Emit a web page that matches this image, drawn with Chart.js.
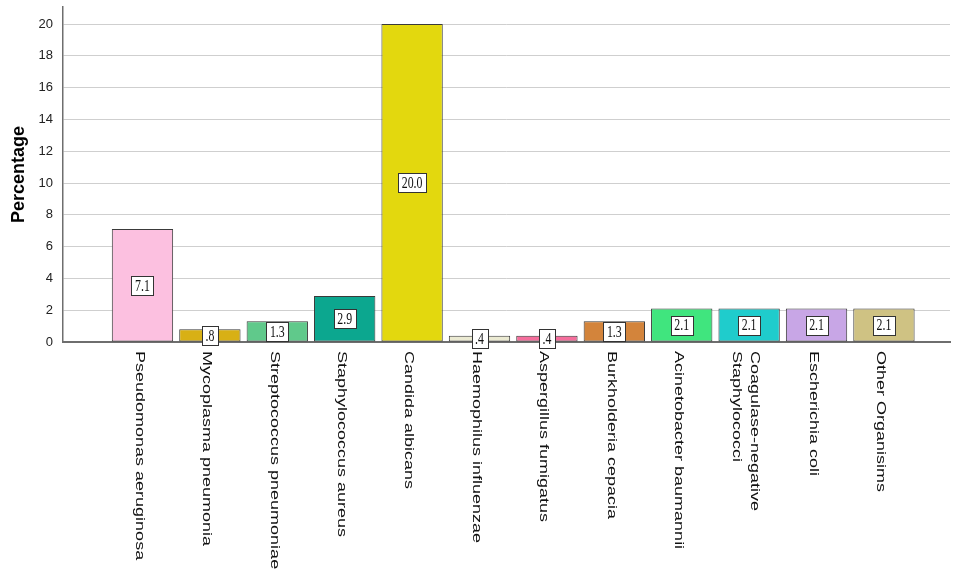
<!DOCTYPE html>
<html>
<head>
<meta charset="utf-8">
<script src="https://cdn.jsdelivr.net/npm/chart.js@4/dist/chart.umd.min.js"></script>
<style>
  html, body { margin: 0; padding: 0; background: #ffffff; }
  #c { display: block; }
</style>
</head>
<body>
<canvas id="c" width="953" height="572"></canvas>
<script>
// ---- data ----
const categories = [
  "Pseudomonas aeruginosa",
  "Mycoplasma pneumonia",
  "Streptococcus pneumoniae",
  "Staphylococcus aureus",
  "Candida albicans",
  "Haemophilus influenzae",
  "Aspergillus fumigatus",
  "Burkholderia cepacia",
  "Acinetobacter baumannii",
  "Coagulase-negative\nStaphylococci",
  "Escherichia coli",
  "Other Organisims"
];
const values = [7.1, 0.8, 1.3, 2.9, 20.0, 0.4, 0.4, 1.3, 2.1, 2.1, 2.1, 2.1];
const valueLabels = ["7.1", ".8", "1.3", "2.9", "20.0", ".4", ".4", "1.3", "2.1", "2.1", "2.1", "2.1"];
const yTicks = [0, 2, 4, 6, 8, 10, 12, 14, 16, 18, 20];

// ---- styles ----
const barColors = [
  "#fcc0e0", "#d8b015", "#60c98b", "#0ca78f", "#e3d80e", "#ebead2",
  "#f56e9c", "#d3843b", "#40e57e", "#1fcccc", "#c8a6e6", "#cfc283"
];
const SQUISH = 0.74;

const xLabelPlugin = {
  id: 'xLabels',
  afterDraw(chart) {
    const ctx = chart.ctx;
    const xs = chart.scales.x;
    ctx.save();
    ctx.fillStyle = '#111';
    ctx.font = '18px "Liberation Sans", Arial, sans-serif';
    ctx.textAlign = 'left';
    ctx.textBaseline = 'middle';
    categories.forEach((lab, i) => {
      const lines = lab.split('\n');
      const cx = xs.getPixelForValue(i) - 3;
      const n = lines.length;
      lines.forEach((ln, j) => {
        const x = cx - (j - (n - 1) / 2) * 18;
        ctx.save();
        ctx.translate(x, xs.top + 9);
        ctx.scale(SQUISH, 1);
        ctx.rotate(Math.PI / 2);
        ctx.fillText(ln, 0, 0);
        ctx.restore();
      });
    });
    ctx.restore();
  }
};

const valueLabelPlugin = {
  id: 'valueLabels',
  afterDatasetsDraw(chart) {
    const ctx = chart.ctx;
    const meta = chart.getDatasetMeta(0);
    ctx.save();
    ctx.font = '16px "Liberation Serif", "Times New Roman", serif';
    meta.data.forEach((el, i) => {
      const txt = valueLabels[i];
      const cx = el.x;
      const cy = (el.y + el.base) / 2;
      const tw = ctx.measureText(txt).width * SQUISH;
      const bw = Math.round(tw + 7);
      const bh = 19;
      const bx = Math.round(cx - bw / 2) + 0.5;
      const by = Math.round(cy - bh / 2) + 0.5;
      ctx.fillStyle = '#ffffff';
      ctx.fillRect(bx, by, bw, bh);
      ctx.strokeStyle = '#333';
      ctx.lineWidth = 1;
      ctx.strokeRect(bx, by, bw, bh);
      ctx.save();
      ctx.translate(cx, cy + 1);
      ctx.scale(SQUISH, 1);
      ctx.fillStyle = '#111';
      ctx.textAlign = 'center';
      ctx.textBaseline = 'middle';
      ctx.fillText(txt, 0, 0);
      ctx.restore();
    });
    ctx.restore();
  }
};

new Chart(document.getElementById('c'), {
  type: 'bar',
  data: {
    datasets: [{
      data: values.map((v, i) => ({ x: i, y: v })),
      backgroundColor: barColors,
      borderColor: '#3a3a3a',
      borderWidth: 1,
      borderSkipped: false,
      barPercentage: 0.91,
      categoryPercentage: 1
    }]
  },
  options: {
    responsive: false,
    animation: false,
    devicePixelRatio: 1,
    layout: { padding: { top: 7, right: 3, left: 0, bottom: 0 } },
    plugins: {
      legend: { display: false },
      tooltip: { enabled: false }
    },
    scales: {
      x: {
        type: 'linear',
        offset: false,
        min: -1.179,
        max: 11.98,
        grid: { display: false, drawTicks: false },
        border: { display: true, color: '#6e6e6e', width: 2 },
        ticks: { display: false },
        afterFit(scale) { scale.height = 230; }
      },
      y: {
        min: 0,
        max: 21.07,
        afterBuildTicks(scale) { scale.ticks = yTicks.map(v => ({ value: v })); },
        ticks: {
          color: '#222',
          padding: 0,
          font: { family: '"Liberation Sans", Arial, sans-serif', size: 13, lineHeight: 1 }
        },
        grid: { color: '#cfcfcf', lineWidth: 1, drawTicks: true, tickLength: 10, tickColor: 'rgba(0,0,0,0)' },
        border: { display: true, color: '#6e6e6e', width: 1.5 },
        title: {
          display: true,
          text: 'Percentage',
          color: '#000',
          font: { family: '"Liberation Sans", Arial, sans-serif', size: 18, weight: 'bold' },
          padding: { top: 8, bottom: 0 }
        },
        afterFit(scale) { scale.width = 63; }
      }
    }
  },
  plugins: [valueLabelPlugin, xLabelPlugin]
});
</script>
</body>
</html>
